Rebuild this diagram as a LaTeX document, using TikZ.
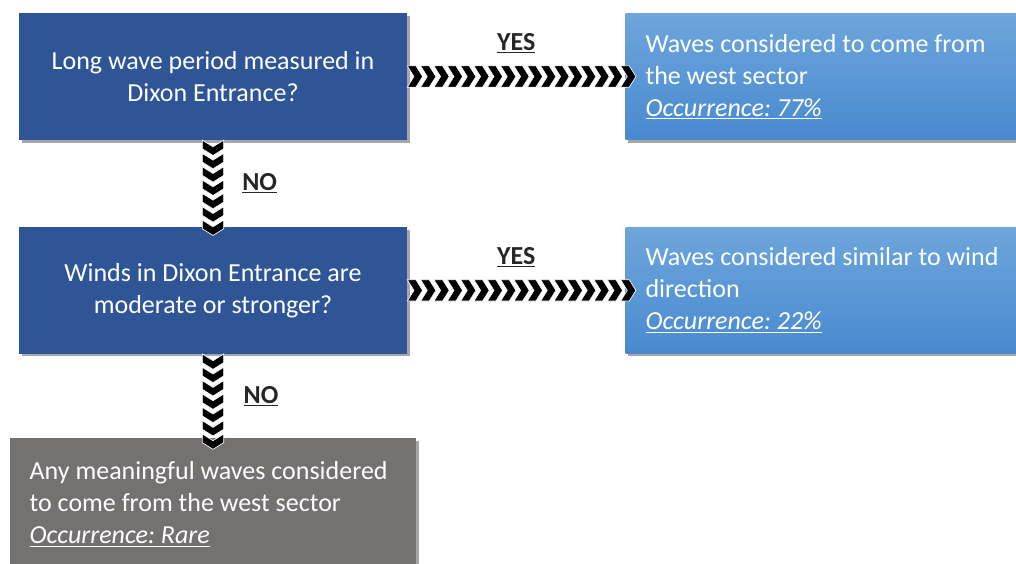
\documentclass[tikz,border=0pt]{standalone}
\usepackage{fontspec}
\setmainfont{Carlito}
\usetikzlibrary{positioning,shadows,decorations.markings}
\frenchspacing

\definecolor{qblue}{HTML}{2F5597}
\definecolor{atop}{HTML}{6EA6DC}
\definecolor{abot}{HTML}{4889CF}
\definecolor{rgray}{HTML}{767171}

\tikzstyle{boxshadow} = [drop shadow={shadow xshift=2pt,shadow yshift=-2pt,opacity=0.35,fill=black}]
\tikzstyle{question} = [rectangle,fill=qblue,text=white,minimum width=291pt,minimum height=95pt,align=center,boxshadow]
\tikzstyle{answer} = [rectangle,top color=atop,bottom color=abot,text=white,minimum width=311pt,minimum height=95pt,text width=281pt,inner xsep=15pt,align=flush left,boxshadow]
\tikzstyle{rare} = [rectangle,fill=rgray,text=white,minimum width=304pt,minimum height=99pt,text width=275pt,inner xsep=15pt,align=flush left,boxshadow]
\tikzstyle{decision} = [font=\fontsize{19.5}{24}\selectfont\bfseries,text=black!85]
\tikzstyle{chevrons} = [postaction={decorate},decoration={markings,
  mark=between positions 0 and 1 step 10pt with {\fill[black,draw=white,line width=0.5pt] (0,-8pt) -- (6.5pt,-8pt) -- (11.5pt,0) -- (6.5pt,8pt) -- (0,8pt) -- (5pt,0) -- cycle;}}]

\begin{document}
\begin{tikzpicture}[font=\fontsize{19.5}{24}\selectfont]

\useasboundingbox (-159.75pt,57.4pt) rectangle (602.25pt,-364.9pt);
\clip (-159.75pt,57.4pt) rectangle (602.25pt,-364.9pt);

\node (ques1) [question] {Long wave period measured in\\Dixon Entrance?};
\node (ques2) [question,below=65pt of ques1] {Winds in Dixon Entrance are\\moderate or stronger?};
\node (ans1) [answer,right=163.5pt of ques1] {Waves considered to come from\\the west sector\\\underline{\textit{Occurrence: 77\%}}};
\node (ans2) [answer,right=163.5pt of ques2] {Waves considered similar to wind\\direction\\\underline{\textit{Occurrence: 22\%}}};
\node (ans3) [rare,below=63pt of ques2] {Any meaningful waves considered\\to come from the west sector\\\underline{\textit{Occurrence: Rare}}};

% chevron arrows with their answers
\path[chevrons] (ques1) -- node[decision,yshift=25pt] {\underline{YES}} (ans1);
\path[chevrons] (ques1) -- node[decision,xshift=35pt] {\underline{NO}} (ques2);
\path[chevrons] (ques2) -- node[decision,yshift=25pt] {\underline{YES}} (ans2);
\path[chevrons] (ques2) -- node[decision,xshift=36pt] {\underline{NO}} (ans3);

\end{tikzpicture}
\end{document}
